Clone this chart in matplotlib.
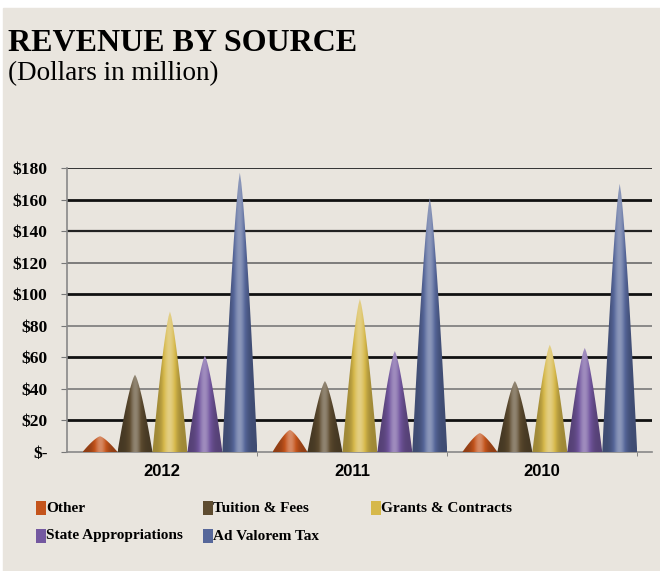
import numpy as np
import matplotlib.pyplot as plt
from matplotlib.patches import Polygon, Rectangle
from matplotlib.colors import to_rgb

# values in $ million
years = ["2012", "2011", "2010"]
sources = ["Other", "Tuition & Fees", "Grants & Contracts",
           "State Appropriations", "Ad Valorem Tax"]
other = [10, 14, 12]
tuition = [49, 45, 45]
grants = [89, 97, 68]
state_approp = [61, 64, 66]
ad_valorem = [177, 161, 170]
series = [other, tuition, grants, state_approp, ad_valorem]
colors = ["#c4541c", "#5e4c30", "#d6b84a", "#7458a0", "#56679a"]
yticks = [0, 20, 40, 60, 80, 100, 120, 140, 160, 180]

BG = "#e9e5de"
SERIF = ["Liberation Serif", "DejaVu Serif"]


def shade(color, n=80):
    """Horizontal strip that makes a flat shape look like a lit cone."""
    base = np.array(to_rgb(color))
    t = np.linspace(0, 1, n)
    prof = 0.74 + 0.5 * np.exp(-((t - 0.5) / 0.2) ** 2)
    img = np.zeros((1, n, 3))
    for i, p in enumerate(prof):
        if p <= 1:
            img[0, i] = base * p
        else:
            img[0, i] = base + (1 - base) * min(1, (p - 1) * 1.3)
    return np.clip(img, 0, 1)


def cone_outline(xc, w, h, n=30):
    # slightly bulging sides, like the spikes in the original
    f = np.linspace(0, 1, n)
    half = w / 2 * (1 - f) ** 0.75
    left = np.column_stack([xc - half, f * h])
    right = np.column_stack([xc + half, f * h])[::-1]
    return np.vstack([left, right])


fig = plt.figure(figsize=(6.6, 5.71), dpi=100, facecolor="white")
fig.patches.append(Rectangle((3 / 660, 0), 1, 1 - 8 / 571,
                             transform=fig.transFigure, color=BG, zorder=-10))

ax = fig.add_axes([67 / 660, 1 - 452 / 571, 585 / 660, 284 / 571])
ax.set_facecolor("none")

# back-wall grid lines, uneven weights like the scanned original
grid_w = [0, 2.0, 1.2, 2.0, 1.2, 2.0, 1.2, 1.6, 2.0, 1.4]
grid_c = ["#888", "#111", "#7a7a7a", "#111", "#7a7a7a", "#111", "#6a6a6a", "#222", "#111", "#333"]
for v, w, c in zip(yticks[1:], grid_w[1:], grid_c[1:]):
    ax.axhline(v, color=c, lw=w, zorder=1)

step = 0.184
first = 0.174
cone_w = step
for k, (vals, col) in enumerate(zip(series, colors)):
    img = shade(col)
    for i, h in enumerate(vals):
        xc = i - 0.5 + first + k * step
        shape = Polygon(cone_outline(xc, cone_w, h), closed=True,
                        facecolor="none", edgecolor="none")
        ax.add_patch(shape)
        im = ax.imshow(img, extent=[xc - cone_w / 2, xc + cone_w / 2, 0, h],
                       aspect="auto", interpolation="bilinear", zorder=3)
        im.set_clip_path(shape)

ax.set_xlim(-0.5, 2.58)
ax.set_ylim(0, 180)

ax.set_yticks(yticks)
ax.set_yticklabels(["$-" if v == 0 else f"${v}" for v in yticks],
                   family=SERIF, fontweight="bold", fontsize=12.5)
ax.tick_params(axis="y", length=4, color="#777", pad=10)

ax.set_xticks(range(len(years)))
ax.set_xticklabels(years, fontweight="bold", fontsize=12,
                   family=["Liberation Sans", "DejaVu Sans"])
ax.tick_params(axis="x", length=0, pad=8.5)
ax.set_xticks([0.5, 1.5, 2.5], minor=True)
ax.tick_params(axis="x", which="minor", length=3, color="#777")

for s in ["top", "right"]:
    ax.spines[s].set_visible(False)
for s in ["left", "bottom"]:
    ax.spines[s].set_color("#888")
    ax.spines[s].set_linewidth(1.2)

fig.text(8 / 660, 1 - 51 / 571, "REVENUE BY SOURCE", family=SERIF,
         fontweight="bold", fontsize=23, va="baseline")
fig.text(8 / 660, 1 - 80 / 571, "(Dollars in million)", family=SERIF,
         fontsize=19.5, va="baseline")

# legend laid out like the original: two rows, three columns
leg_x = [36, 203, 371]
leg_y = [508, 536]
for k, (name, col) in enumerate(zip(sources, colors)):
    row, c = divmod(k, 3)
    x0, y0 = leg_x[c], leg_y[row]
    fig.patches.append(Rectangle((x0 / 660, 1 - (y0 + 7) / 571), 10 / 660, 14 / 571,
                                 transform=fig.transFigure, facecolor=col,
                                 edgecolor="none"))
    fig.text((x0 + 10) / 660, 1 - y0 / 571, name, family=SERIF,
             fontweight="bold", fontsize=11, va="center")

fig.savefig("out.png", dpi=100, facecolor=fig.get_facecolor())
